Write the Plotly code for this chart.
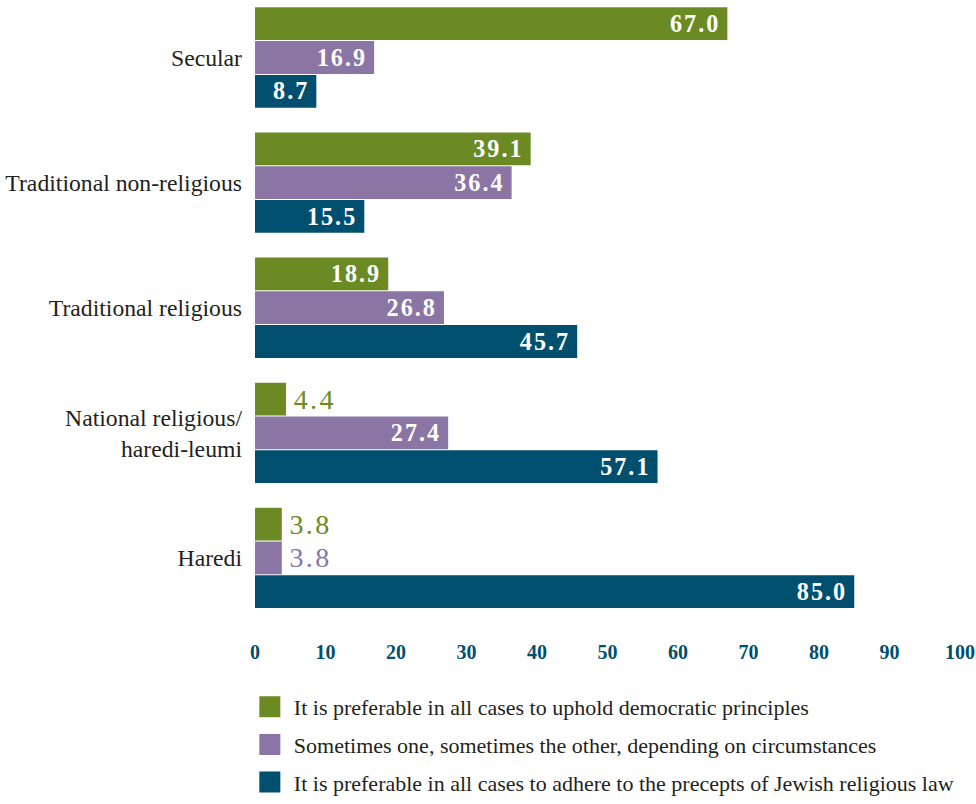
import plotly.graph_objects as go

categories = ["Secular", "Traditional non-religious", "Traditional religious",
              "National religious/<br>haredi-leumi", "Haredi"]
series_names = [
    "It is preferable in all cases to uphold democratic principles",
    "Sometimes one, sometimes the other, depending on circumstances",
    "It is preferable in all cases to adhere to the precepts of Jewish religious law",
]
democratic = [67.0, 39.1, 18.9, 4.4, 3.8]
sometimes = [16.9, 36.4, 26.8, 27.4, 3.8]
religious_law = [8.7, 15.5, 45.7, 57.1, 85.0]
tick_values = [0, 10, 20, 30, 40, 50, 60, 70, 80, 90, 100]

colors = ["rgb(107,138,35)", "rgb(138,117,165)", "rgb(0,79,110)"]
FONT = "Liberation Serif"
INSIDE_MIN = 6
HAIR = "\u200a"


def tracked(s, gap=HAIR):
    return gap.join(s)


fig = go.Figure()
for name, vals, col in zip(series_names, [democratic, sometimes, religious_law], colors):
    pos = ["inside" if v > INSIDE_MIN else "outside" for v in vals]
    txt = [tracked(f"{v:.1f}") + "\u00a0" if p == "inside"
           else HAIR * 2 + tracked(f"{v:.1f}")
           for v, p in zip(vals, pos)]
    fig.add_trace(go.Bar(
        y=categories, x=vals, orientation="h", name=name,
        marker=dict(color=col, line=dict(width=0)),
        text=txt, textposition=pos, insidetextanchor="end",
        insidetextfont=dict(family=FONT, size=28, color="white", weight="bold"),
        outsidetextfont=dict(family=FONT, size=28, color=col),
        cliponaxis=False, showlegend=False,
    ))
    fig.add_trace(go.Scatter(
        x=[None], y=[None], mode="markers", name=name,
        marker=dict(symbol="square", size=16, color=col, line=dict(color=col, width=7)),
        legendgroup=name, showlegend=True,
    ))

PLOT_H = 628
BOTTOM_M = 118
PAPER_H = 804 - BOTTOM_M
fig.update_layout(
    width=976, height=804,
    margin=dict(l=255, r=16, t=0, b=BOTTOM_M),
    paper_bgcolor="white", plot_bgcolor="white",
    barmode="group", bargap=0.19, bargroupgap=0.03,
    font=dict(family=FONT, size=20, color="#231F20"),
    xaxis=dict(range=[0, 100], tickvals=tick_values,
               showgrid=False, zeroline=False, showline=False, ticks="",
               tickfont=dict(family=FONT, size=20, color="rgb(0,79,110)", weight="bold"),
               ticklabelstandoff=10, ticklabeloverflow="allow", automargin=False),
    yaxis=dict(categoryorder="array", categoryarray=categories,
               domain=[(PAPER_H - PLOT_H) / PAPER_H, 1],
               range=[4.56, -0.4596], showgrid=False, zeroline=False, showline=False,
               ticks="", ticklabelstandoff=12, automargin=False,
               tickfont=dict(family=FONT, size=23.7, color="#231F20")),
    legend=dict(x=-0.013, xanchor="left", y=0, yanchor="top",
                traceorder="grouped", tracegroupgap=6, itemwidth=38,
                font=dict(family=FONT, size=22, color="#231F20"),
                bgcolor="rgba(0,0,0,0)"),
)

fig.write_html("out.html")
